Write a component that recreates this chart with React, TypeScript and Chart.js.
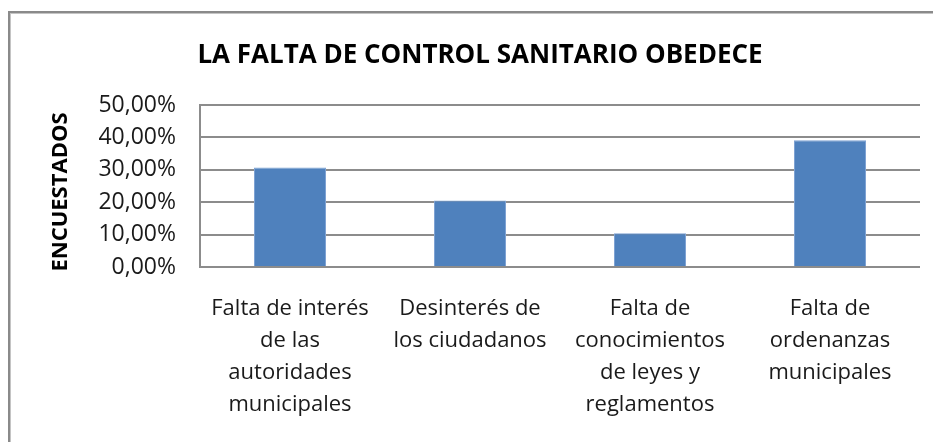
import React, { useEffect, useRef } from 'react';
import { Chart, registerables } from 'chart.js';

Chart.register(...registerables);

const TITLE = 'LA FALTA DE CONTROL SANITARIO OBEDECE';
const Y_TITLE = 'ENCUESTADOS';
const categories: string[][] = [
  ['Falta de interés', 'de las', 'autoridades', 'municipales'],
  ['Desinterés de', 'los ciudadanos'],
  ['Falta de', 'conocimientos', 'de leyes y', 'reglamentos'],
  ['Falta de', 'ordenanzas', 'municipales'],
];
const values = [30.7, 20.5, 10.4, 39.1];
const yMin = 0;
const yMax = 50;
const yStep = 10;

const FONT = "'Open Sans', 'Noto Sans', sans-serif";
const W = 933;
const H = 442;

const framePlugin = {
  id: 'frame',
  beforeDraw(chart: any) {
    const ctx = chart.ctx;
    ctx.save();
    ctx.fillStyle = '#ffffff';
    ctx.fillRect(0, 0, chart.width, chart.height);
    ctx.fillStyle = '#8a8a8a';
    ctx.fillRect(8, 11, 2, chart.height - 11);
    ctx.fillRect(8, 11, chart.width - 8, 2);
    ctx.fillStyle = '#c4c4c4';
    ctx.fillRect(10, 13, 1, chart.height - 13);
    ctx.fillRect(10, 13, chart.width - 10, 1);
    ctx.restore();
  },
};

const titlePlugin = {
  id: 'customTitle',
  afterDraw(chart: any) {
    const ctx = chart.ctx;
    ctx.save();
    ctx.font = `bold 26px ${FONT}`;
    ctx.fillStyle = '#000000';
    ctx.textAlign = 'center';
    ctx.textBaseline = 'alphabetic';
    ctx.fillText(TITLE, 480, 63);
    // vertical axis title
    const area = chart.chartArea;
    ctx.font = `bold 22px ${FONT}`;
    ctx.translate(61, (area.top + area.bottom) / 2 + 6);
    ctx.rotate(-Math.PI / 2);
    ctx.textAlign = 'center';
    ctx.textBaseline = 'middle';
    ctx.fillText(Y_TITLE, 0, 0);
    ctx.restore();
  },
};

export default function App() {
  const ref = useRef<HTMLCanvasElement | null>(null);
  useEffect(() => {
    if (!ref.current) return;
    const chart = new Chart(ref.current, {
      type: 'bar',
      data: {
        labels: categories,
        datasets: [
          {
            data: values,
            backgroundColor: '#4f81bd',
            borderColor: '#7ea2d3',
            borderWidth: 1,
            categoryPercentage: 1,
            barPercentage: 0.4,
          },
        ],
      },
      options: {
        responsive: false,
        animation: false,
        devicePixelRatio: 1,
        layout: { padding: { left: 0, right: 13, top: 105, bottom: 0 } },
        plugins: {
          legend: { display: false },
          title: { display: false },
          tooltip: { enabled: false },
        },
        scales: {
          x: {
            grid: { display: false, drawTicks: false },
            border: { display: false },
            ticks: {
              color: '#1a1a1a',
              font: { family: FONT, size: 22, lineHeight: 32 / 22 },
              padding: 26,
              maxRotation: 0,
              autoSkip: false,
            },
            afterFit(scale: any) {
              scale.height = H - 267;
            },
          },
          y: {
            min: yMin,
            max: yMax,
            grid: { color: '#8c8c8c', lineWidth: 2, drawTicks: false },
            border: { display: true, color: '#8c8c8c', width: 2 },
            ticks: {
              stepSize: yStep,
              color: '#1a1a1a',
              font: { family: FONT, size: 23 },
              padding: 24,
              callback: (v: any) => Number(v).toFixed(2).replace('.', ',') + '%',
            },
            title: { display: false },
            afterFit(scale: any) {
              scale.width = 200;
            },
          },
        },
      },
      plugins: [framePlugin, titlePlugin],
    });
    return () => chart.destroy();
  }, []);
  return (
    <div style={{ position: 'absolute', left: 0, top: 0, width: W, height: H, overflow: 'hidden' }}>
      <canvas ref={ref} width={W} height={H} style={{ display: 'block' }} />
    </div>
  );
}
